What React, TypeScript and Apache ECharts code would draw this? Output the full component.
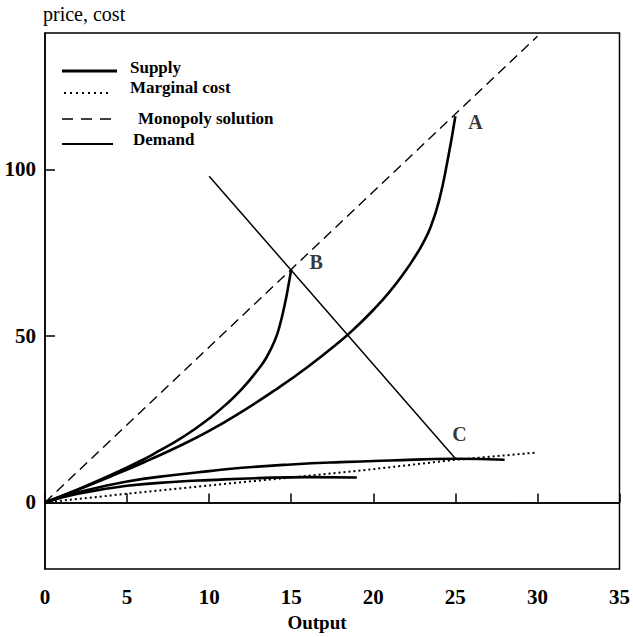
import React, { useEffect, useRef } from "react";
import * as echarts from "echarts";

// ---- data ----
const supplyToA: [number, number][] = [
  [0, 0], [2, 3.8], [4, 7.8], [6, 12.0], [8, 16.5], [10, 21.5], [12, 27.3],
  [14, 33.7], [16, 40.7], [18, 48.5], [19, 52.9], [20, 57.8], [21, 63.3],
  [22, 69.8], [22.5, 73.5], [23, 77.6], [23.5, 82.8], [24, 90.5], [24.5, 102.0], [25, 116],
];
const supplyToB: [number, number][] = [
  [0, 0], [2, 3.9], [4, 8.2], [6, 12.9], [7, 15.6], [8, 18.4], [9, 21.6], [10, 25.2],
  [11, 29.3], [12, 34.1], [13, 40.0], [13.5, 43.6], [14, 48.6], [14.3, 53.1],
  [14.6, 59.3], [14.8, 64.3], [15, 70],
];
const supplyFlatLong: [number, number][] = [
  [0, 0], [2, 3.0], [5, 6.3], [8, 8.3], [10, 9.4], [12, 10.4], [15, 11.4],
  [18, 12.1], [21, 12.6], [25, 13.1], [28, 12.8],
];
const supplyFlatShort: [number, number][] = [
  [0, 0], [2, 2.6], [5, 5.0], [8, 6.2], [10, 6.7], [13, 7.3], [16, 7.6], [19, 7.5],
];
const marginalCost: [number, number][] = [
  [0, 0], [5, 2.6], [10, 5.1], [15, 7.5], [20, 10.0], [25, 12.8], [30, 15.0],
];
const monopolySolution: [number, number][] = [[0, 0], [30, 140]];
const demand: [number, number][] = [[10, 98], [25, 13.2]];

const pointNames = ["A", "B", "C"];
const pointValues: [number, number][] = [[25, 116], [15, 70], [25, 13.2]];
const xTickInterval = 5;
const yTickValues = [0, 50, 100];

const SERIF = "'Liberation Serif', 'DejaVu Serif', serif";

export default function App() {
  const ref = useRef<HTMLDivElement>(null);
  useEffect(() => {
    document.body.style.margin = "0";
    const chart = echarts.init(ref.current!, null, { renderer: "svg" });
    const labelOffsets: [number, number][] = [[20, 6], [25, -7], [4, -24]];
    const supplyStyle = { color: "#000", width: 2.6 };
    const baseLine = {
      type: "line" as const,
      showSymbol: false,
      symbol: "none",
      silent: true,
      smooth: 0.5,
    };
    const legendLeft = 62;
    const legendFont = { fontSize: 17, fontWeight: "bold", fontFamily: SERIF, fill: "#000", verticalAlign: "middle" };
    chart.setOption({
      animation: false,
      backgroundColor: "#fff",
      grid: {
        left: 45, right: 13, top: 33, bottom: 68,
        show: true, borderColor: "#000", borderWidth: 1.5, backgroundColor: "transparent",
      },
      xAxis: {
        type: "value", min: 0, max: 35, interval: xTickInterval,
        axisLine: { show: true, lineStyle: { color: "#000", width: 1.5 } },
        axisTick: { show: true, inside: true, length: 9, lineStyle: { color: "#000", width: 1.5 } },
        axisLabel: { color: "#000", fontSize: 21, fontWeight: "bold", fontFamily: SERIF, margin: 17 },
        splitLine: { show: false },
      },
      yAxis: {
        type: "value", min: -20, max: 141,
        axisLine: { show: true, lineStyle: { color: "#000", width: 1.5 } },
        axisTick: {
          show: true, inside: true, length: 10, customValues: yTickValues,
          lineStyle: { color: "#000", width: 1.5 },
        },
        axisLabel: {
          color: "#000", fontSize: 21, fontWeight: "bold", fontFamily: SERIF, margin: 9,
          customValues: yTickValues,
        },
        splitLine: { show: false },
      },
      series: [
        { ...baseLine, name: "Supply", data: supplyToA, lineStyle: supplyStyle, z: 5 },
        { ...baseLine, name: "Supply ", data: supplyToB, lineStyle: supplyStyle, z: 5 },
        { ...baseLine, name: "Supply  ", data: supplyFlatLong, lineStyle: supplyStyle, z: 5 },
        { ...baseLine, name: "Supply   ", data: supplyFlatShort, lineStyle: supplyStyle, z: 5 },
        {
          ...baseLine, name: "Marginal cost", data: marginalCost, smooth: false,
          lineStyle: { color: "#000", width: 2, type: [2, 3] },
        },
        {
          ...baseLine, name: "Monopoly solution", data: monopolySolution, smooth: false,
          lineStyle: { color: "#000", width: 1.4, type: [10, 6] },
        },
        {
          ...baseLine, name: "Demand", data: demand, smooth: false,
          lineStyle: { color: "#000", width: 1.5 },
          markLine: {
            silent: true, symbol: "none", label: { show: false },
            lineStyle: { color: "#000", width: 1.5, type: "solid" },
            data: [{ yAxis: 0 }],
          },
        },
        {
          type: "scatter", name: "points", symbolSize: 0, silent: true,
          data: pointValues.map((v, i) => ({
            name: pointNames[i], value: v,
            label: { offset: labelOffsets[i] },
          })),
          label: {
            show: true, position: "inside", formatter: "{b}",
            color: "#000", fontSize: 20, fontWeight: "bold", fontFamily: SERIF,
          },
        },
      ],
      graphic: [
        { type: "text", x: 43, y: 14, style: { text: "price, cost", fontSize: 20, fontFamily: SERIF, fill: "#000", verticalAlign: "middle" } },
        { type: "text", x: 317, y: 622, style: { text: "Output", fontSize: 19, fontWeight: "bold", fontFamily: SERIF, fill: "#000", align: "center", verticalAlign: "middle" } },
        { type: "line", shape: { x1: legendLeft, y1: 71, x2: 117, y2: 71 }, style: { stroke: "#000", lineWidth: 3 } },
        { type: "text", x: 130, y: 67, style: { ...legendFont, text: "Supply" } },
        { type: "line", shape: { x1: 64, y1: 93, x2: 110, y2: 93 }, style: { stroke: "#000", lineWidth: 2, lineDash: [2, 4] } },
        { type: "text", x: 130, y: 87, style: { ...legendFont, text: "Marginal cost" } },
        { type: "line", shape: { x1: legendLeft, y1: 119, x2: 118, y2: 119 }, style: { stroke: "#000", lineWidth: 1.5, lineDash: [11, 8] } },
        { type: "text", x: 138, y: 118, style: { ...legendFont, text: "Monopoly solution" } },
        { type: "line", shape: { x1: legendLeft, y1: 144, x2: 113, y2: 144 }, style: { stroke: "#000", lineWidth: 2 } },
        { type: "text", x: 133, y: 139, style: { ...legendFont, text: "Demand" } },
      ],
    });
    return () => chart.dispose();
  }, []);
  return <div ref={ref} style={{ width: 633, height: 637 }} />;
}
